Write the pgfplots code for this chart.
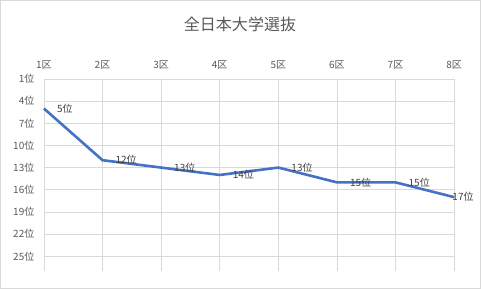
\documentclass[border=0pt]{standalone}
\usepackage{pgfplots}
\usepackage{pgfplotstable}
\pgfplotsset{compat=1.18}
\usepackage{fontspec}
\setmainfont{Noto Sans CJK JP}
\definecolor{lineblue}{HTML}{4472C4}
\definecolor{txtgray}{HTML}{595959}
\definecolor{lblgray}{HTML}{404040}
\definecolor{gridgray}{HTML}{D9D9D9}
\pgfplotstableread{
x y dx
1 5 8.5
2 12 8.5
3 13 8.5
4 14 8.5
5 13 8.5
6 15 8.5
7 15 8.5
8 17 -6.3
}\ranks
\begin{document}
\begin{tikzpicture}[x=1pt,y=1pt]
\draw[gridgray, line width=0.75pt] (0.5,-0.5) rectangle (480.5,-288.5);
\node[txtgray, font=\fontsize{16}{18}\selectfont] at (240,-25) {全日本大学選抜};
\begin{axis}[at={(44pt,-79pt)}, anchor=north west, scale only axis,
  width=410pt, height=192pt,
  xmin=1, xmax=8, ymin=1, ymax=27, y dir=reverse,
  xtick={1,...,8},
  xticklabels={1区,2区,3区,4区,5区,6区,7区,8区},
  xticklabel pos=upper,
  ytick={1,4,7,10,13,16,19,22,25},
  yticklabels={1位,4位,7位,10位,13位,16位,19位,22位,25位},
  grid=major, grid style={gridgray, line width=0.75pt},
  axis line style={draw=none}, major tick length=0pt,
  tick label style={txtgray, font=\fontsize{10}{11}\selectfont},
  yticklabel style={xshift=-6pt},
  xticklabel style={yshift=6pt},
  /pgf/number format/assume math mode=true,
  clip=false,
]
\addplot[lineblue, line width=2.6pt, line join=round,
  visualization depends on=\thisrow{dx} \as \lblshift,
  nodes near coords={\pgfmathprintnumber{\pgfplotspointmeta}位},
  nodes near coords style={anchor=west, xshift=\lblshift pt, text=lblgray, font=\fontsize{10}{11}\selectfont},
] table[x=x, y=y] {\ranks};
\end{axis}
\end{tikzpicture}
\end{document}
